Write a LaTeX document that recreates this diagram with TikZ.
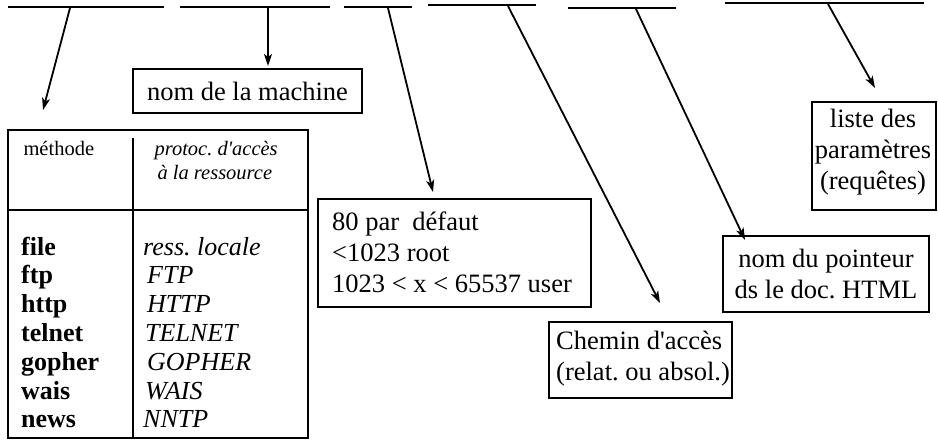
\documentclass[tikz,border=0pt]{standalone}
\usepackage{fontspec}
\setmainfont{Liberation Serif}
\usetikzlibrary{arrows.meta}
\frenchspacing
\begin{document}
\begin{tikzpicture}[x=1pt,y=-1pt,
  seg/.style={line width=2.4pt},
  arr/.style={line width=1.8pt,-{Stealth[length=12pt,width=8pt,inset=3pt]}},
  box/.style={draw,line width=2.2pt,inner sep=0pt,outer sep=0pt},
  big/.style={font=\fontsize{26.5}{31}\selectfont},
  small/.style={font=\fontsize{20.5}{24}\selectfont},
  bold/.style={font=\fontsize{26}{29}\selectfont\bfseries},
  ital/.style={font=\fontsize{26}{29}\selectfont\itshape}]
\useasboundingbox (0,0) rectangle (938,441);
% top segments
\draw[seg] (8,7) -- (164,7);
\draw[seg] (180,7) -- (330,7);
\draw[seg] (344,7) -- (412,7);
\draw[seg] (428,5) -- (536,5);
\draw[seg] (568,8) -- (676,8);
\draw[seg] (725,3) -- (924,3);
% arrow anchor points
\coordinate (a1s) at (70,8);   \coordinate (a1e) at (43,110);
\coordinate (a2s) at (268,8);  \coordinate (a2e) at (268,66);
\coordinate (a3s) at (388,8);  \coordinate (a3e) at (433,192);
\coordinate (a4s) at (508,6);  \coordinate (a4e) at (660,303);
\coordinate (a5s) at (636,9);  \coordinate (a5e) at (745,240);
\coordinate (a6s) at (828,4);  \coordinate (a6e) at (875,88);
\draw[arr] (a1s) -- (a1e);
\draw[arr] (a2s) -- (a2e);
\draw[arr] (a3s) -- (a3e);
\draw[arr] (a4s) -- (a4e);
\draw[arr] (a5s) -- (a5e);
\draw[arr] (a6s) -- (a6e);
% boxes
\node[box,big,anchor=north west,minimum width=229,minimum height=44] (mach) at (133,69) {nom de la machine};
\node[box,anchor=north west,minimum width=273,minimum height=108] (port) at (318,199) {};
\node[big,anchor=west,align=left,inner sep=0pt] (portT) at ([xshift=14pt,yshift=1pt]port.west) {80 par~ défaut\\<1023 root\\1023 < x < 65537 user};
\node[box,anchor=north west,minimum width=183,minimum height=76] (chemin) at (549,322) {};
\node[big,anchor=west,align=left,inner sep=0pt] (cheminT) at ([xshift=7pt,yshift=1pt]chemin.west) {Chemin d\textquotesingle accès\\(relat. ou absol.)};
\node[box,big,anchor=north west,minimum width=206,minimum height=76,align=center] (point) at (723,236) {nom du pointeur\\ds le doc. HTML};
\node[box,anchor=north west,minimum width=124,minimum height=108] (liste) at (812,102) {};
\node[big,align=center,inner sep=0pt] (listeT) at ([xshift=-1pt,yshift=4pt]liste.center) {liste des\\paramètres\\(requêtes)};
% table
\node[box,anchor=north west,minimum width=300,minimum height=308] (tab) at (8,130) {};
\coordinate (divtop) at (133,138);
\draw[line width=2.2pt] (tab.west |- 0,210) -- (tab.east |- 0,210);
\draw[line width=2.2pt] (divtop) -- (divtop |- tab.south);
\node[small,anchor=base west] (h1) at (20,156) {méthode};
\node[small,anchor=base west] (h2) at (151,156) {\itshape protoc. d\textquotesingle accès};
\node[small,anchor=base west] (h3) at (154,180) {\itshape à la ressource};
\foreach \m/\p/\dx [count=\i from 0] in {file/ress. locale/0, ftp/FTP/4, http/HTTP/4, telnet/TELNET/2, gopher/GOPHER/4, wais/WAIS/2, news/NNTP/0}{
  \node[bold,anchor=base west,inner sep=0pt] (m\i) at (21,255+28.8*\i) {\m};
  \node[ital,anchor=base west,inner sep=0pt] (p\i) at (143+\dx,255+28.8*\i) {\p};
}
\end{tikzpicture}
\end{document}
